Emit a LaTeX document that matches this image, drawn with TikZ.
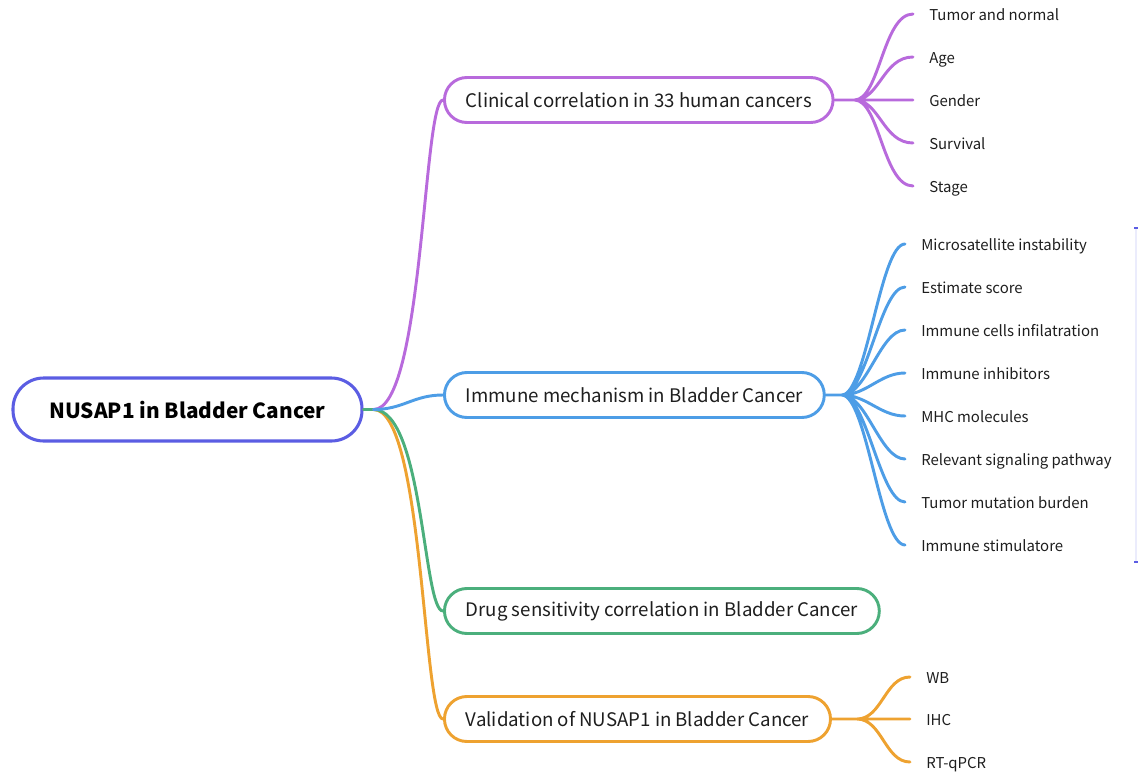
\documentclass[tikz,border=0pt]{standalone}
\usepackage{fontspec}
\setmainfont{Noto Sans CJK SC}
\usetikzlibrary{positioning, calc}
\definecolor{RootBlue}{HTML}{5B5DE3}
\definecolor{ClinPurple}{HTML}{B86ADC}
\definecolor{ImmBlue}{HTML}{4D9DE6}
\definecolor{DrugGreen}{HTML}{4BAF7C}
\definecolor{ValOrange}{HTML}{EEA230}
\definecolor{TextDark}{HTML}{1E1E1E}
\tikzset{
    root/.style={rectangle, draw=RootBlue, fill=white, line width=2.3pt, rounded corners=23pt, minimum width=261.75pt, minimum height=47.25pt, font=\fontsize{15.6}{19}\selectfont\bfseries, text=black},
    branch/.style={rectangle, fill=white, line width=2.2pt, rounded corners=16.8pt, minimum height=33.75pt, inner xsep=16pt, anchor=west, font=\fontsize{14}{17}\selectfont, text=TextDark},
    branch_p/.style={branch, draw=ClinPurple},
    branch_b/.style={branch, draw=ImmBlue},
    branch_g/.style={branch, draw=DrugGreen},
    branch_o/.style={branch, draw=ValOrange},
    leaf/.style={inner xsep=12pt, inner ysep=0pt, text height=10pt, text depth=1pt, anchor=west, font=\fontsize{11.2}{13}\selectfont, text=TextDark},
    link/.style={line width=2.2pt, line cap=round},
}

\begin{document}
\begin{tikzpicture}[x=0.75pt, y=-0.75pt]
\useasboundingbox (0,0) rectangle (1138,771);
% root
\node[root] (root) at (187.5,409.5) {NUSAP1 in Bladder Cancer};
\coordinate (rhub) at ($(root.east)+(10,0)$);

% branches
\node[branch_p] (clin) at (443,100) {Clinical correlation in 33 human cancers};
\node[branch_b] (immune) at (443,395) {Immune mechanism in Bladder Cancer};
\node[branch_g] (drug) at (443,611) {Drug sensitivity correlation in Bladder Cancer};
\node[branch_o] (valid) at (443,719) {Validation of NUSAP1 in Bladder Cancer};

% root to branches
\draw[link, draw=ValOrange] (root.east) -- (rhub) .. controls +(50,0) and +(-20,0) .. (valid.west);
\draw[link, draw=DrugGreen] (root.east) -- (rhub) .. controls +(50,0) and +(-20,0) .. (drug.west);
\draw[link, draw=ClinPurple] (rhub) .. controls +(50,0) and +(-20,0) .. (clin.west);
\draw[link, draw=ImmBlue] (rhub) .. controls +(30,0) and +(-30,0) .. (immune.west);

% clinical leaves
\node[leaf] (tumor) at (913,14) {Tumor and normal};
\node[leaf] (age) at (913,57) {Age};
\node[leaf] (gender) at (913,100) {Gender};
\node[leaf] (surv) at (913,143) {Survival};
\node[leaf] (stage) at (913,186) {Stage};
\coordinate (clinhub) at ($(clin.east)+(20,0)$);
\draw[link, draw=ClinPurple] (clin.east) -- (clinhub)
    (clinhub) .. controls +(25,0) and +(-30,0) .. (tumor.west)
    (clinhub) .. controls +(25,0) and +(-30,0) .. (age.west)
    (clinhub) -- (gender.west)
    (clinhub) .. controls +(25,0) and +(-30,0) .. (surv.west)
    (clinhub) .. controls +(25,0) and +(-30,0) .. (stage.west);

% immune leaves
\node[leaf] (msi) at (905,244) {Microsatellite instability};
\node[leaf] (estim) at (905,287) {Estimate score};
\node[leaf] (infil) at (905,330) {Immune cells infilatration};
\node[leaf] (inhib) at (905,373) {Immune inhibitors};
\node[leaf] (mhc) at (905,416) {MHC molecules};
\node[leaf] (signal) at (905,459) {Relevant signaling pathway};
\node[leaf] (tmb) at (905,502) {Tumor mutation burden};
\node[leaf] (stim) at (905,545) {Immune stimulatore};
\coordinate (immhub) at ($(immune.east)+(16,0)$);
\draw[link, draw=ImmBlue] (immune.east) -- (immhub)
    (immhub) .. controls +(25,0) and +(-25,0) .. (msi.west)
    (immhub) .. controls +(25,0) and +(-25,0) .. (estim.west)
    (immhub) .. controls +(25,0) and +(-25,0) .. (infil.west)
    (immhub) .. controls +(25,0) and +(-25,0) .. (inhib.west)
    (immhub) .. controls +(25,0) and +(-25,0) .. (mhc.west)
    (immhub) .. controls +(25,0) and +(-25,0) .. (signal.west)
    (immhub) .. controls +(25,0) and +(-25,0) .. (tmb.west)
    (immhub) .. controls +(25,0) and +(-25,0) .. (stim.west);

% validation leaves
\node[leaf] (wb) at (910,677) {WB};
\node[leaf] (ihc) at (910,719) {IHC};
\node[leaf] (qpcr) at (910,762) {RT-qPCR};
\coordinate (valhub) at ($(valid.east)+(25,0)$);
\draw[link, draw=ValOrange] (valid.east) -- (valhub)
    (valhub) .. controls +(25,0) and +(-25,0) .. (wb.west)
    (valhub) -- (ihc.west)
    (valhub) .. controls +(25,0) and +(-25,0) .. (qpcr.west);

% summary bracket, cut off at the edge
\draw[line width=1pt, RootBlue!12] (1136,228) -- (1136,562);
\draw[line width=2pt, RootBlue] (1134,228) -- (1139,228) (1134,562) -- (1139,562);
\end{tikzpicture}
\end{document}
